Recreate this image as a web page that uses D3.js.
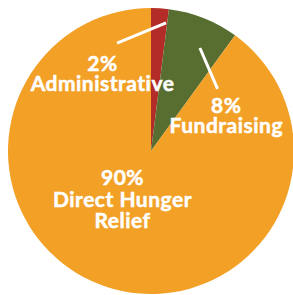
<!DOCTYPE html>
<html>
<head>
<meta charset="utf-8">
<script src="https://cdn.jsdelivr.net/npm/d3@7"></script>
<style>
  body { margin: 0; background: #fff; }
  svg { display: block; }
</style>
</head>
<body>
<div id="chart"></div>
<script>
const width = 293;
const height = 295;

// data
const categories = ["Administrative", "Fundraising", "Direct Hunger Relief"];
const values = [2, 8, 90];
const colors = ["#b42c28", "#586e31", "#f2a026"];

const svg = d3.select("#chart")
    .append("svg")
    .attr("width", width)
    .attr("height", height);

const cx = 151, cy = 151, radius = 143;
const g = svg.append("g").attr("transform", `translate(${cx},${cy})`);

const pie = d3.pie().sort(null).value(d => d.value);
const arc = d3.arc().innerRadius(0).outerRadius(radius);

const data = categories.map((c, i) => ({ name: c, value: values[i], color: colors[i] }));
const arcs = pie(data);

g.selectAll("path")
    .data(arcs)
    .enter().append("path")
    .attr("d", arc)
    .attr("fill", d => d.data.color);

// label placement (x, y relative to centre) and leader lines in polar coords
const labelPos = [
    { x: -48.5, y: -80.3, gap: 20, lines: ["2%", "Administrative"], leader: [[-17.5, 113], [6.7, 129]] },
    { x: 75.3, y: -38.3, gap: 20, lines: ["8%", "Fundraising"], leader: [[25.4, 114], [47, 91]] },
    { x: -28.5, y: 34, gap: 21.5, lines: ["90%", "Direct Hunger", "Relief"], leader: null }
];

const polar = (deg, r) => {
    const a = deg * Math.PI / 180;
    return [r * Math.sin(a), -r * Math.cos(a)];
};

labelPos.forEach(l => {
    if (l.leader) {
        const p0 = polar(...l.leader[0]);
        const p1 = polar(...l.leader[1]);
        g.append("line")
            .attr("x1", p0[0]).attr("y1", p0[1])
            .attr("x2", p1[0]).attr("y2", p1[1])
            .attr("stroke", "#fff")
            .attr("stroke-width", 3);
    }
    const t = g.append("text")
        .attr("x", l.x)
        .attr("y", l.y)
        .attr("text-anchor", "middle")
        .attr("fill", "#fff")
        .attr("stroke", "#fff")
        .attr("stroke-width", 0.5)
        .style("font-family", "Lato, sans-serif")
        .style("font-weight", "bold")
        .style("font-size", "21px")
        .style("letter-spacing", "0.5px");
    l.lines.forEach((s, i) => {
        t.append("tspan")
            .attr("x", l.x)
            .attr("dy", i === 0 ? 0 : l.gap)
            .text(s);
    });
});
</script>
</body>
</html>
